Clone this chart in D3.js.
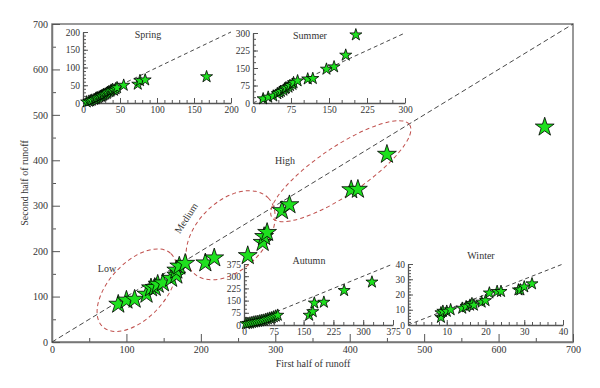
<!DOCTYPE html>
<html>
<head>
<meta charset="utf-8">
<script src="https://cdn.jsdelivr.net/npm/d3@7"></script>
<style>
body{margin:0;background:#fff;}
text{font-family:"Liberation Serif","Times New Roman",serif;fill:#333;}
</style>
</head>
<body>
<div id="chart"></div>
<script>
//-------Data: [first half, second half]
var mainPoints = [[89,83],[100,92],[111,94],[127,105],[133,119],[138,120],[142,127],[149,130],
	[160,140],[167,147],[167,158],[171,167],[179,173],[206,174],[218,185],[263,190],[283,219],
	[285,232],[289,241],[309,289],[319,302],[402,335],[411,336],[450,413],[662,473]];

var springPoints = [[5,3],[8,5],[10,6],[12,8],[15,10],[17,12],[18,14],[20,15],[22,17],[24,19],[25,20],
	[27,22],[28,24],[30,25],[32,27],[33,30],[35,32],[37,33],[38,36],[40,38],[42,36],[44,40],[46,43],
	[55,50],[74,53],[77,63],[84,65],[167,74]];

var summerPoints = [[20,18],[30,25],[40,30],[48,40],[52,45],[55,50],[60,55],[63,62],[65,65],[70,68],
	[73,75],[78,80],[80,87],[88,95],[108,103],[118,105],[145,145],[160,155],[183,205],[203,292]];

var autumnPoints = [[5,8],[10,10],[15,12],[20,15],[25,18],[30,20],[35,22],[40,25],[45,28],[50,30],
	[55,35],[60,38],[65,42],[70,45],[75,50],[80,55],[85,60],[164,60],[173,82],[177,135],[201,140],
	[252,212],[322,264]];

var winterPoints = [[8.5,5],[8.5,8],[9,9],[10,9],[11,10],[14,11],[15,12],[16,13],[16.5,14],[17,13],
	[19,15],[20,16],[21,21],[23,22],[24,22],[28.5,23],[29,23],[30,25],[32,27]];

//Tick labels
var mainTicks = [0,100,200,300,400,500,600,700];
var springTicks = [0,50,100,150,200];
var summerTicks = [0,75,150,225,300];
var autumnTicks = [0,75,150,225,300,375];
var winterTicks = [0,10,20,30,40];

//Class labels and the ellipses round them (centre in data units)
var classNames = ["Low","Medium","High"];
var classCentres = [[114,114],[240,235],[388,376]];

var w = 600, h = 388;
var green = "#1ee01e";
var red = "#c0504d";

var svg = d3.select("#chart").append("svg")
	.attr("width", w)
	.attr("height", h);

var x = d3.scaleLinear().domain([0,700]).range([52,573]);
var y = d3.scaleLinear().domain([0,700]).range([342,24]);

var star = d3.symbol().type(d3.symbolStar);

/**
 * Draws major and minor ticks of one axis, ticks pointing into the plot.
 */
function drawAxis(g, axisFn, scale, major, minor, majorLen, minorLen, pad, fontSize){
	var gMinor = g.append("g").call(axisFn(scale).tickValues(minor).tickSize(-minorLen)
		.tickSizeOuter(0).tickFormat(""));
	gMinor.select(".domain").remove();
	var gMajor = g.append("g").call(axisFn(scale).tickValues(major).tickSize(-majorLen)
		.tickSizeOuter(0).tickPadding(pad).tickFormat(d3.format("d")));
	g.selectAll(".tick line").attr("stroke", "#555");
	g.selectAll(".domain").attr("stroke", "#555").attr("stroke-width", 1.3);
	g.selectAll("text").attr("font-size", fontSize).attr("fill", "#333")
		.style("font-family", "'Liberation Serif', serif");
}

function stars(g, points, sx, sy, size){
	g.selectAll(null).data(points).enter().append("path")
		.attr("d", star.size(size))
		.attr("transform", function(d){ return "translate(" + sx(d[0]) + "," + sy(d[1]) + ")"; })
		.attr("fill", green)
		.attr("stroke", "#000")
		.attr("stroke-width", 0.8);
}

//-------Main frame
svg.append("rect")
	.attr("x", x(0)).attr("y", y(700))
	.attr("width", x(700) - x(0)).attr("height", y(0) - y(700))
	.attr("fill", "none").attr("stroke", "#777").attr("stroke-width", 1.5);

var gx = svg.append("g").attr("transform", "translate(0," + y(0) + ")");
drawAxis(gx, d3.axisBottom, x, mainTicks, d3.range(50,700,100), 8, 4, 4, "10px");
var gy = svg.append("g").attr("transform", "translate(" + x(0) + ",0)");
drawAxis(gy, d3.axisLeft, y, mainTicks, d3.range(50,700,100), 8, 4, 4, "10px");
svg.selectAll(".domain").attr("stroke", "#777").attr("stroke-width", 1.5);

//1:1 line
svg.append("line")
	.attr("x1", x(0)).attr("y1", y(0)).attr("x2", x(700)).attr("y2", y(700))
	.attr("stroke", "#333").attr("stroke-width", 0.9).attr("stroke-dasharray", "5,3");

svg.append("text")
	.attr("x", 313).attr("y", 367)
	.attr("text-anchor", "middle").attr("font-size", "10px")
	.text("First half of runoff");
svg.append("text")
	.attr("transform", "translate(28,183) rotate(-90)")
	.attr("text-anchor", "middle").attr("font-size", "10px")
	.text("Second half of runoff");

//-------Insets
function inset(name, points, ticks, minor, xr, yr, titleX, titleY, size){
	var max = ticks[ticks.length - 1];
	var sx = d3.scaleLinear().domain([0,max]).range(xr);
	var sy = d3.scaleLinear().domain([0,max]).range(yr);
	var g = svg.append("g");
	g.append("line")
		.attr("x1", sx(0)).attr("y1", sy(0)).attr("x2", sx(max)).attr("y2", sy(max))
		.attr("stroke", "#333").attr("stroke-width", 0.9).attr("stroke-dasharray", "4,3");
	var ax = g.append("g").attr("transform", "translate(0," + sy(0) + ")");
	drawAxis(ax, d3.axisBottom, sx, ticks, minor, 5, 3, 3, "9.5px");
	var ay = g.append("g").attr("transform", "translate(" + sx(0) + ",0)");
	drawAxis(ay, d3.axisLeft, sy, ticks, minor, 5, 3, 3, "9.5px");
	stars(g, points, sx, sy, size);
	g.append("text")
		.attr("x", titleX).attr("y", titleY)
		.attr("text-anchor", "middle").attr("font-size", "10px")
		.text(name);
}

inset("Spring", springPoints, springTicks, d3.range(0,201,10), [83,231], [103,32], 148, 38, 45);
inset("Summer", summerPoints, summerTicks, d3.range(0,301,25), [253,405], [103,33], 310, 39, 45);
inset("Autumn", autumnPoints, autumnTicks, d3.range(0,376,25), [244,393], [325,264], 309, 264, 45);
inset("Winter", winterPoints, winterTicks, d3.range(0,41,2), [408,563], [325,264], 481, 259, 45);

//-------Class ellipses
var ellipseShape = [[50,28,-47],[53,34,-45],[83,24,-34]];
classCentres.forEach(function(c, i){
	svg.append("ellipse")
		.attr("transform", "translate(" + x(c[0]) + "," + y(c[1]) + ") rotate(" + ellipseShape[i][2] + ")")
		.attr("rx", ellipseShape[i][0]).attr("ry", ellipseShape[i][1])
		.attr("fill", "none").attr("stroke", red).attr("stroke-width", 1)
		.attr("stroke-dasharray", "4,3");
});

var labelPos = [[107,272,0],[189,220,-57],[285,164,0]];
classNames.forEach(function(n, i){
	svg.append("text")
		.attr("transform", "translate(" + labelPos[i][0] + "," + labelPos[i][1] + ") rotate(" + labelPos[i][2] + ")")
		.attr("text-anchor", "middle").attr("font-size", "10px")
		.text(n);
});

//Main stars on top
stars(svg.append("g"), mainPoints, x, y, 110);
</script>
</body>
</html>
